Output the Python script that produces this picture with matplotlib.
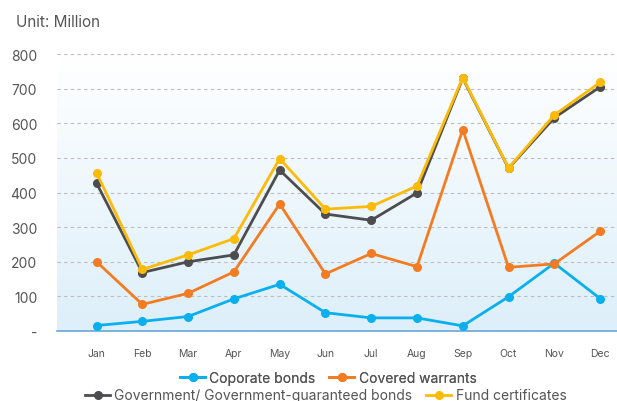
import numpy as np
import matplotlib.pyplot as plt

plt.rcParams['font.family'] = ['Inter', 'DejaVu Sans']

months = ['Jan', 'Feb', 'Mar', 'Apr', 'May', 'Jun', 'Jul', 'Aug', 'Sep', 'Oct', 'Nov', 'Dec']
corporate = [16, 28, 42, 93, 135, 53, 38, 38, 15, 99, 196, 94]
covered = [200, 77, 109, 171, 367, 165, 224, 186, 582, 184, 194, 288]
government = [427, 169, 200, 220, 465, 338, 320, 399, 730, 470, 616, 705]
fund = [457, 178, 220, 267, 498, 352, 360, 419, 732, 471, 624, 718]

yticks = [0, 100, 200, 300, 400, 500, 600, 700, 800]
ytick_labels = ['-', '100', '200', '300', '400', '500', '600', '700', '800']

fig = plt.figure(figsize=(6.17, 4.02), dpi=100)
ax = fig.add_axes([0.092, 0.174, 0.908, 0.689])

x = np.arange(len(months))
ax.set_xlim(-0.87, 11.37)
ax.set_ylim(0, 800)

# gradient background, white at top to light blue at bottom
grad = np.linspace(0, 1, 256).reshape(-1, 1)
top = np.array([1.0, 1.0, 1.0])
bot = np.array([0xdd, 0xef, 0xfa]) / 255
img = top + (bot - top) * grad
ax.imshow(img[:, None, :].repeat(2, axis=1), extent=[-0.87, 11.37, 0, 800],
          aspect='auto', origin='upper', zorder=0)

ax.grid(axis='y', linestyle=(0, (3, 3)), color='#bdbdbd', linewidth=0.8, zorder=1)

series = [
    (corporate, '#0ab0ee', 'Coporate bonds'),
    (covered, '#f37c22', 'Covered warrants'),
    (government, '#4d4d4f', 'Government/ Government-guaranteed bonds'),
    (fund, '#fbbb08', 'Fund certificates'),
]
handles = []
for vals, col, lab in series:
    h, = ax.plot(x, vals, color=col, linewidth=2, marker='o', markersize=5.5,
                 label=lab, zorder=3)
    handles.append(h)

ax.set_xticks(x)
ax.set_xticklabels(months, fontsize=7.5, color='#555555')
ax.set_yticks(yticks)
ax.set_yticklabels(ytick_labels, fontsize=10, color='#555555')
ax.tick_params(length=0)
ax.tick_params(axis='x', pad=12)
ax.tick_params(axis='y', pad=14)

for s in ['top', 'right', 'left']:
    ax.spines[s].set_visible(False)
ax.spines['bottom'].set_color('#6aa6d6')
ax.spines['bottom'].set_linewidth(1.2)

fig.text(0.026, 0.945, 'Unit: Million', fontsize=11, color='#555555', va='center')

leg1 = fig.legend(handles=handles[:2], loc='center', bbox_to_anchor=(0.532, 0.058),
                  ncol=2, frameon=False, fontsize=10, handlelength=1.8,
                  handletextpad=0.3, columnspacing=1.0, labelcolor='#555555')
fig.add_artist(leg1)
fig.legend(handles=handles[2:], loc='center', bbox_to_anchor=(0.528, 0.014),
           ncol=2, frameon=False, fontsize=10, handlelength=1.8,
           handletextpad=0.3, columnspacing=1.0, labelcolor='#555555')

fig.savefig('out.png', dpi=100)
